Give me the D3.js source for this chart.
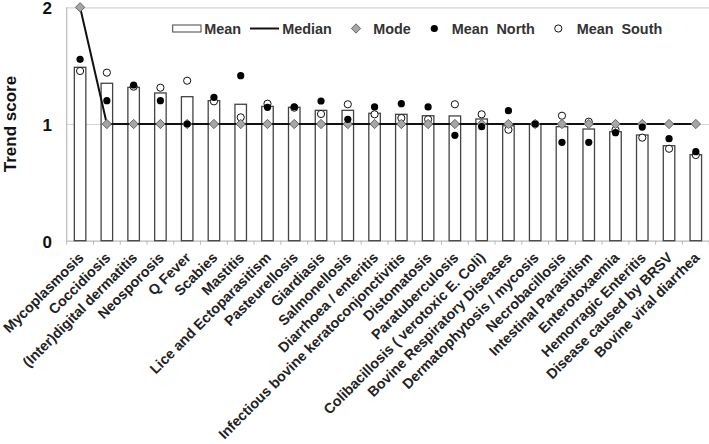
<!DOCTYPE html>
<html><head><meta charset="utf-8">
<script src="https://cdn.jsdelivr.net/npm/d3@7"></script>
<style>body{margin:0;background:#fff}svg{display:block;font-family:"Liberation Sans",Arial,sans-serif;font-weight:bold}</style>
</head><body><svg id="c" width="709" height="444"></svg>
<script>
const categories = ["Mycoplasmosis","Coccidiosis","(Inter)digital dermatitis","Neosporosis","Q Fever","Scabies","Mastitis","Lice and Ectoparasitism","Pasteurellosis","Giardiasis","Salmonellosis","Diarrhoea / enteritis","Infectious bovine keratoconjonctivitis","Distomatosis","Paratuberculosis","Colibacillosis ( verotoxic E. Coli)","Bovine Respiratory Diseases","Dermatophytosis / mycosis","Necrobacillosis","Intestinal Parasitism","Enterotoxaemia","Hemorragic Enteritis","Disease caused by BRSV","Bovine viral diarrhea"];
const meanValues  = [1.486,1.349,1.314,1.266,1.234,1.200,1.169,1.151,1.143,1.117,1.117,1.092,1.083,1.071,1.069,1.043,0.985,1.000,0.977,0.957,0.934,0.906,0.814,0.737];
const medianValues= [2,1,1,1,1,1,1,1,1,1,1,1,1,1,1,1,1,1,1,1,1,1,1,1];
const modeValues  = [2,1,1,1,1,1,1,1,1,1,1,1,1,1,1,1,1,1,1,1,1,1,1,1];
const northValues = [1.554,1.200,1.334,1.200,1.000,1.229,1.414,1.143,1.148,1.197,1.040,1.146,1.174,1.146,0.903,0.977,1.114,1.000,0.843,0.843,0.926,0.974,0.874,0.763];
const southValues = [1.454,1.440,1.320,1.311,1.371,1.194,1.057,1.174,1.140,1.086,1.169,1.083,1.051,1.040,1.169,1.083,0.951,1.000,1.071,1.020,0.950,0.883,0.788,0.734];
const yTicks = [0,1,2];
const legendLabels = ["Mean","Median","Mode","Mean  North","Mean  South"];

const svg = d3.select("#c");
const L = 66.7, R = 709.2, T = 7.3, B = 240.7;
const x = d3.scaleBand().domain(categories).range([L,R]).paddingInner(0).paddingOuter(0);
const y = d3.scaleLinear().domain([0,2]).range([B,T]);
const bw = x.bandwidth()*0.43;
const cx = d => x(d)+x.bandwidth()/2;

// gridlines
svg.append("g").selectAll("line").data(yTicks).join("line")
  .attr("x1",L).attr("x2",R).attr("y1",d=>y(d)+0.5).attr("y2",d=>y(d)+0.5)
  .attr("stroke",d=>d===0?"#bbb":"#d4d4d4").attr("stroke-width",1.2);
svg.append("line").attr("x1",L).attr("x2",L).attr("y1",T).attr("y2",B)
  .attr("stroke","#bbb").attr("stroke-width",1.2);
// x ticks at band boundaries
svg.append("g").selectAll("line").data(d3.range(categories.length+1)).join("line")
  .attr("x1",i=>L+i*x.step()).attr("x2",i=>L+i*x.step()).attr("y1",B).attr("y2",B+4)
  .attr("stroke","#bbb");

// y tick labels
svg.append("g").selectAll("text").data(yTicks).join("text")
  .attr("x",52).attr("y",d=>y(d)).attr("dy","0.4em").attr("text-anchor","end")
  .attr("font-size",17).attr("fill","#111").text(d=>d);
svg.append("text").attr("transform",`translate(16,${(T+B)/2}) rotate(-90)`)
  .attr("text-anchor","middle").attr("font-size",17).attr("fill","#111").text("Trend score");

// bars
svg.append("g").selectAll("rect").data(categories).join("rect")
  .attr("x",(d)=>cx(d)-bw/2).attr("y",(d,i)=>y(meanValues[i])).attr("width",bw)
  .attr("height",(d,i)=>B-y(meanValues[i])).attr("fill","#fff").attr("stroke","#444").attr("stroke-width",1.3);

// median line
svg.append("path").datum(categories)
  .attr("d",d3.line().x(d=>cx(d)).y((d,i)=>y(medianValues[i])))
  .attr("fill","none").attr("stroke","#111").attr("stroke-width",2);

const diamond = d3.symbol().type(d3.symbolDiamond2).size(55);
// south
svg.append("g").selectAll("circle").data(categories).join("circle")
  .attr("cx",cx).attr("cy",(d,i)=>y(southValues[i])).attr("r",3.6)
  .attr("fill","#fff").attr("stroke","#111").attr("stroke-width",1);
// mode
svg.append("g").selectAll("path").data(categories).join("path")
  .attr("transform",(d,i)=>`translate(${cx(d)},${y(modeValues[i])})`).attr("d",diamond)
  .attr("fill","#a6a6a6").attr("stroke","#666").attr("stroke-width",1);
// north
svg.append("g").selectAll("circle").data(categories).join("circle")
  .attr("cx",cx).attr("cy",(d,i)=>y(northValues[i])).attr("r",3.6).attr("fill","#000");

// x labels
svg.append("g").selectAll("text").data(categories).join("text")
  .attr("transform",d=>`translate(${cx(d)+4.5},${B+17.8}) rotate(-45)`)
  .attr("text-anchor","end").attr("font-size",14.3).attr("fill","#222").text(d=>d);

// legend
const lg = svg.append("g").attr("font-size",14.4).attr("fill","#333");
const ly = 28.5;
lg.append("rect").attr("x",172.7).attr("y",ly-3.5).attr("width",28.3).attr("height",7).attr("fill","#fff").attr("stroke","#444");
lg.append("line").attr("x1",250).attr("x2",279).attr("y1",ly).attr("y2",ly).attr("stroke","#111").attr("stroke-width",2);
lg.append("path").attr("transform",`translate(356,${ly})`).attr("d",diamond).attr("fill","#a6a6a6").attr("stroke","#666");
lg.append("circle").attr("cx",434.3).attr("cy",ly).attr("r",3.6).attr("fill","#000");
lg.append("circle").attr("cx",558.3).attr("cy",ly).attr("r",3.6).attr("fill","#fff").attr("stroke","#111");
const lx = [204.3,282.3,373.3,451.7,576.7];
lg.selectAll("text").data(legendLabels).join("text").attr("x",(d,i)=>lx[i]).attr("y",ly).attr("dy","0.36em")
  .style("white-space","pre").text(d=>d);
</script></body></html>
